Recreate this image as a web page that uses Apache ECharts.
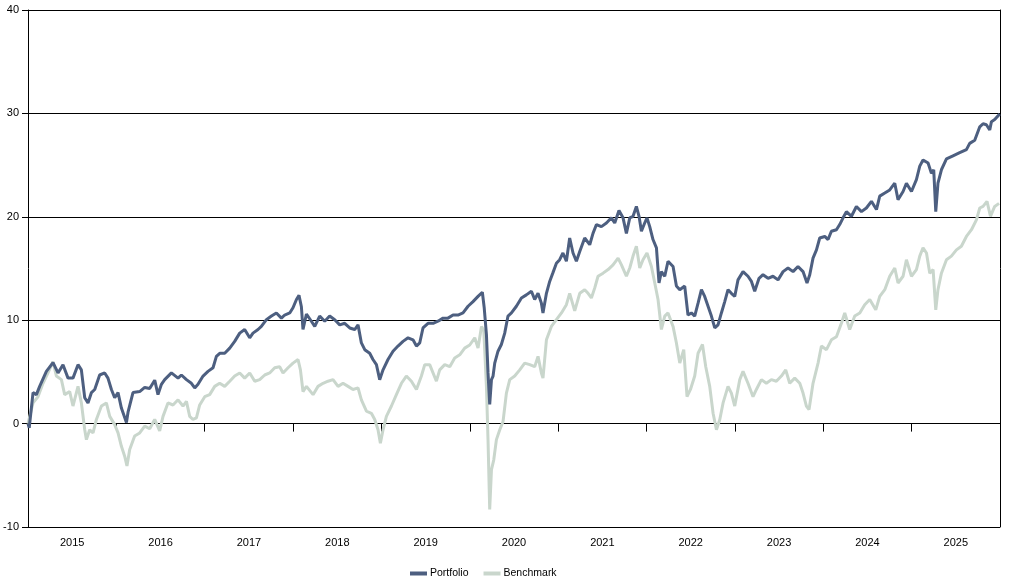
<!DOCTYPE html>
<html>
<head>
<meta charset="utf-8">
<script src="https://cdn.jsdelivr.net/npm/echarts@6/dist/echarts.min.js"></script>
<style>html,body{margin:0;padding:0;background:#fff}#c{width:1010px;height:584px}</style>
</head>
<body>
<div id="c"></div>
<script>
var yearLabels = ['2015','2016','2017','2018','2019','2020','2021','2022','2023','2024','2025'];
var yTicks = [-10, 0, 10, 20, 30, 40];

// time as decimal years since 2015
var portfolioT = [0,0.014,0.057,0.095,0.132,0.208,0.283,0.340,0.396,0.453,0.509,0.566,0.604,0.642,0.679,0.718,0.755,0.811,0.868,0.905,0.944,0.981,1.019,1.057,1.114,1.132,1.188,1.264,1.321,1.377,1.434,1.471,1.510,1.547,1.623,1.698,1.736,1.793,1.849,1.887,1.924,1.981,2.037,2.094,2.132,2.170,2.226,2.283,2.339,2.396,2.452,2.509,2.546,2.603,2.641,2.698,2.755,2.811,2.868,2.905,2.962,2.999,3.038,3.067,3.094,3.112,3.151,3.207,3.245,3.301,3.358,3.414,3.471,3.528,3.584,3.641,3.697,3.735,3.773,3.811,3.867,3.904,3.943,3.980,4.018,4.074,4.131,4.187,4.244,4.301,4.357,4.396,4.433,4.470,4.527,4.584,4.640,4.697,4.753,4.810,4.866,4.923,4.980,5.036,5.093,5.142,5.163,5.188,5.206,5.225,5.245,5.263,5.282,5.319,5.357,5.395,5.432,5.471,5.527,5.584,5.640,5.697,5.734,5.772,5.810,5.828,5.867,5.904,5.941,5.980,6.017,6.054,6.093,6.130,6.168,6.206,6.244,6.300,6.357,6.394,6.433,6.489,6.546,6.602,6.640,6.688,6.734,6.772,6.810,6.847,6.885,6.915,6.942,6.979,7.005,7.036,7.073,7.112,7.141,7.168,7.206,7.243,7.300,7.338,7.376,7.432,7.469,7.508,7.545,7.583,7.621,7.658,7.696,7.734,7.772,7.809,7.847,7.885,7.922,7.960,7.998,8.035,8.092,8.148,8.187,8.224,8.273,8.318,8.375,8.431,8.488,8.545,8.601,8.658,8.714,8.771,8.816,8.847,8.884,8.923,8.960,9.017,9.054,9.092,9.149,9.186,9.224,9.262,9.319,9.375,9.432,9.488,9.545,9.602,9.639,9.696,9.752,9.809,9.846,9.903,9.941,9.998,10.054,10.092,10.129,10.186,10.224,10.250,10.273,10.298,10.337,10.394,10.468,10.544,10.620,10.657,10.714,10.771,10.808,10.846,10.884,10.903,10.940,10.997];
var portfolioValues = [0,-0.4,3.0,2.8,3.6,5.05,5.9,4.9,5.7,4.4,4.4,5.7,5.2,2.5,2.0,3.0,3.3,4.7,4.9,4.4,3.3,2.5,3.0,1.5,0.1,1.1,3.0,3.1,3.5,3.4,4.2,2.8,3.8,4.25,4.9,4.4,4.7,4.25,3.9,3.45,3.8,4.6,5.05,5.4,6.5,6.8,6.8,7.3,7.95,8.75,9.1,8.3,8.75,9.1,9.4,10.05,10.4,10.7,10.2,10.5,10.7,11.2,12.0,12.4,11.3,9.1,10.6,9.9,9.4,10.4,9.9,10.4,10.05,9.55,9.7,9.25,9.1,9.55,7.8,7.15,6.8,6.2,5.7,4.25,5.2,6.2,7.0,7.5,7.95,8.3,8.1,7.5,7.8,9.25,9.7,9.7,9.9,10.2,10.2,10.5,10.5,10.7,11.35,11.8,12.3,12.7,11.2,8.6,4.9,1.85,4.25,4.6,5.85,7.0,7.65,8.75,10.4,10.7,11.35,12.15,12.45,12.8,12.0,12.6,11.65,10.7,12.6,13.75,14.6,15.5,15.85,16.5,15.7,17.95,16.5,15.7,16.65,17.95,17.3,18.4,19.25,19.05,19.4,19.9,19.4,20.6,19.9,18.4,19.9,20.05,21.0,20.05,18.6,19.4,19.9,19.05,17.8,17.0,13.6,14.7,14.25,15.7,15.2,13.3,12.95,13.3,10.5,10.7,10.4,11.65,12.95,12.3,11.35,10.4,9.25,9.55,10.7,11.8,12.95,12.6,12.3,13.9,14.7,14.25,13.75,12.8,14.05,14.4,14.05,14.25,13.9,14.7,15.05,14.7,15.2,14.7,13.6,14.4,16.0,16.8,17.95,18.1,17.8,18.6,18.75,19.25,19.9,20.5,20.05,21.0,20.5,20.85,21.5,20.7,22.0,22.3,22.6,23.25,21.65,22.45,23.25,22.45,23.6,24.9,25.5,25.2,24.2,24.55,20.5,23.25,24.55,25.6,25.9,26.2,26.5,27.1,27.4,28.7,29.0,28.9,28.4,29.2,29.4,29.95];

var benchmarkT = [0,0.057,0.113,0.170,0.226,0.283,0.321,0.378,0.415,0.472,0.509,0.566,0.604,0.642,0.661,0.698,0.736,0.774,0.831,0.887,0.925,0.981,1.019,1.057,1.094,1.120,1.151,1.207,1.264,1.321,1.377,1.434,1.490,1.528,1.584,1.641,1.698,1.754,1.793,1.830,1.867,1.906,1.943,2.000,2.056,2.113,2.169,2.226,2.283,2.339,2.396,2.452,2.509,2.566,2.622,2.679,2.735,2.792,2.848,2.886,2.943,2.999,3.056,3.083,3.112,3.151,3.226,3.282,3.339,3.395,3.452,3.509,3.565,3.622,3.678,3.735,3.773,3.830,3.886,3.924,3.961,3.988,4.018,4.056,4.113,4.169,4.226,4.282,4.339,4.396,4.452,4.490,4.546,4.622,4.659,4.716,4.773,4.829,4.886,4.942,4.999,5.056,5.093,5.132,5.158,5.188,5.206,5.225,5.245,5.271,5.301,5.339,5.376,5.414,5.452,5.508,5.565,5.621,5.678,5.734,5.772,5.810,5.828,5.867,5.923,5.980,6.037,6.093,6.130,6.187,6.244,6.300,6.338,6.376,6.413,6.451,6.508,6.565,6.621,6.678,6.716,6.772,6.810,6.847,6.885,6.923,6.960,7.005,7.055,7.093,7.130,7.168,7.206,7.243,7.300,7.338,7.376,7.421,7.458,7.497,7.545,7.583,7.633,7.670,7.715,7.753,7.791,7.829,7.866,7.922,7.960,7.998,8.055,8.092,8.148,8.205,8.243,8.300,8.356,8.413,8.469,8.526,8.575,8.620,8.677,8.734,8.771,8.809,8.839,8.884,8.941,8.979,9.036,9.092,9.149,9.205,9.243,9.299,9.356,9.413,9.469,9.526,9.594,9.639,9.696,9.752,9.809,9.846,9.903,9.941,9.998,10.054,10.092,10.129,10.168,10.205,10.243,10.273,10.298,10.337,10.394,10.450,10.507,10.563,10.620,10.677,10.733,10.771,10.808,10.853,10.892,10.940,10.989];
var benchmarkValues = [0,2.0,2.6,3.9,4.9,6.0,4.6,4.25,2.8,3.1,1.7,3.6,2.0,-0.6,-1.55,-0.6,-0.9,0.4,1.7,2.0,0.7,-0.1,-0.9,-2.2,-3.15,-4.1,-2.5,-1.2,-0.9,-0.25,-0.5,0.4,-0.7,0.7,2.0,1.8,2.3,1.7,2.15,0.7,0.4,0.55,1.8,2.6,2.8,3.6,3.9,3.6,4.1,4.6,4.9,4.4,4.9,4.1,4.25,4.7,4.9,5.4,5.5,4.9,5.4,5.85,6.2,5.2,3.1,3.6,2.8,3.6,3.9,4.1,4.25,3.6,3.9,3.6,3.3,3.45,2.3,1.2,1.0,0.4,-0.6,-1.9,-0.6,0.7,1.7,2.8,3.9,4.6,4.1,3.3,4.6,5.7,5.7,4.1,5.2,5.7,5.5,6.35,6.65,7.3,7.6,8.3,7.3,9.4,9.0,3.6,-1.55,-8.3,-4.45,-3.5,-1.55,-0.6,0.2,2.95,4.25,4.6,5.2,5.85,5.7,5.5,6.5,4.9,4.4,8.1,9.4,10.05,10.7,11.5,12.6,10.9,12.6,12.95,12.6,12.15,13.1,14.25,14.55,14.9,15.35,16.0,15.35,14.25,15.05,16.2,17.15,15.05,15.85,16.5,15.2,13.6,12.0,9.1,10.4,10.7,9.4,7.8,5.85,7.15,2.6,3.3,4.6,6.8,7.65,5.5,3.6,1.0,-0.6,0.4,2.0,3.6,2.95,1.7,4.25,5.05,3.9,2.6,3.3,4.25,3.9,4.25,4.1,4.6,5.2,3.9,4.4,3.9,2.95,1.7,1.35,3.9,5.85,7.5,7.15,8.1,8.4,9.7,10.7,9.1,10.4,10.7,11.5,12.0,11.0,12.3,12.95,14.25,15.05,13.6,14.25,15.85,14.25,14.9,16.2,17.0,16.5,14.55,14.9,11.0,12.95,14.55,15.85,16.2,16.8,17.15,18.1,18.75,19.7,20.85,21.0,21.5,20.05,21.0,21.3];

var startYear = 2015;
var yearStarts = yearLabels.map(function(y){ return Number(y); });
function toPairs(ts, vs){ return ts.map(function(t,i){ return [startYear + t, vs[i]]; }); }

var font = "'Liberation Sans', Arial, sans-serif";
var chart = echarts.init(document.getElementById('c'), null, {renderer:'canvas'});
chart.setOption({
  animation: false,
  backgroundColor: '#ffffff',
  grid: {left: 28, right: 10, top: 10, bottom: 57, containLabel: false},
  legend: {
    bottom: 0, left: 405, icon: 'rect', itemWidth: 17, itemHeight: 4, itemGap: 15,
    textStyle: {color: '#000', fontSize: 10.5, fontFamily: font, padding: [0, 0, 0, -2]},
    data: ['Portfolio', 'Benchmark']
  },
  xAxis: [{
    type: 'category', data: yearLabels, boundaryGap: true, position: 'bottom',
    axisLine: {show: false},
    axisTick: {show: false},
    axisLabel: {color: '#000', fontSize: 11, fontFamily: font, margin: 10},
    splitLine: {show: false}
  }, {
    type: 'value', min: startYear, max: startYear + yearLabels.length, position: 'bottom',
    axisLine: {show: true, lineStyle: {color: '#000', width: 1}},
    axisTick: {show: true, length: 8, customValues: yearStarts, lineStyle: {color: '#000', width: 1}},
    axisLabel: {show: false},
    splitLine: {show: false}
  }],
  yAxis: [{
    type: 'value', min: yTicks[0], max: yTicks[yTicks.length-1], interval: 10,
    axisLine: {show: true, lineStyle: {color: '#000', width: 1}},
    axisTick: {show: true, length: 6, lineStyle: {color: '#000', width: 1}},
    axisLabel: {color: '#000', fontSize: 11, fontFamily: font, margin: 9},
    splitLine: {show: true, lineStyle: {color: '#000', width: 1}}
  }, {
    type: 'value', min: yTicks[0], max: yTicks[yTicks.length-1], interval: 10, position: 'right',
    axisLine: {show: true, lineStyle: {color: '#000', width: 1}},
    axisTick: {show: false}, axisLabel: {show: false}, splitLine: {show: false}
  }],
  series: [{
    name: 'Benchmark', type: 'line', xAxisIndex: 1, yAxisIndex: 0, z: 2,
    data: toPairs(benchmarkT, benchmarkValues), showSymbol: false, symbol: 'none',
    color: '#c9d6cc', lineStyle: {color: '#c9d6cc', width: 3}
  }, {
    name: 'Portfolio', type: 'line', xAxisIndex: 1, yAxisIndex: 0, z: 3,
    data: toPairs(portfolioT, portfolioValues), showSymbol: false, symbol: 'none',
    color: '#4d5f80', lineStyle: {color: '#4d5f80', width: 3}
  }]
});
</script>
</body>
</html>
